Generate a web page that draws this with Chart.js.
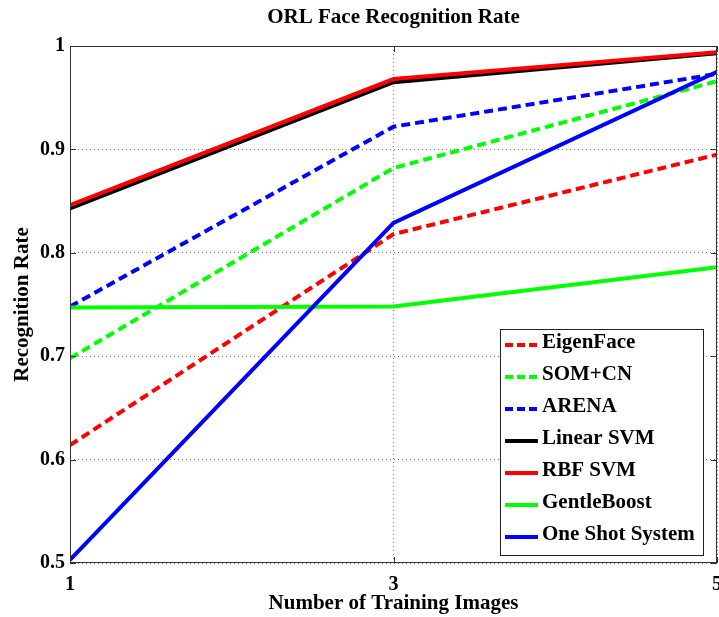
<!DOCTYPE html>
<html>
<head>
<meta charset="utf-8">
<script src="https://cdn.jsdelivr.net/npm/chart.js@4"></script>
<style>
  body { margin: 0; background: #fff; }
  canvas { display: block; }
</style>
</head>
<body>
<canvas id="c" width="719" height="617"></canvas>
<script>
// values
const trainImages = [1, 3, 5];
const xTicks = [1, 3, 5];
const yTicks = [0.5, 0.6, 0.7, 0.8, 0.9, 1];

const methods = ['EigenFace', 'SOM+CN', 'ARENA', 'Linear SVM', 'RBF SVM', 'GentleBoost', 'One Shot System'];
const eigenFace   = [0.614, 0.818, 0.895];
const somCn       = [0.698, 0.882, 0.966];
const arena       = [0.748, 0.922, 0.973];
const linearSvm   = [0.843, 0.965, 0.993];
const rbfSvm      = [0.846, 0.968, 0.994];
const gentleBoost = [0.747, 0.748, 0.786];
const oneShot     = [0.503, 0.829, 0.975];

const series = [eigenFace, somCn, arena, linearSvm, rbfSvm, gentleBoost, oneShot];
const colors = ['#ff0000', '#00ff00', '#0000ff', '#000000', '#ff0000', '#00ff00', '#0000ff'];
const dashed = [true, true, true, false, false, false, false];

const chartTitle = 'ORL Face Recognition Rate';
const serif = "'Liberation Serif', 'Times New Roman', serif";

const datasets = methods.map((name, i) => ({
  label: name,
  data: series[i].map((v, j) => ({ x: trainImages[j], y: v })),
  borderColor: colors[i],
  backgroundColor: colors[i],
  borderWidth: 4,
  borderDash: dashed[i] ? [9, 5] : [],
  pointRadius: 0,
  tension: 0,
  fill: false,
  order: methods.length - i  // later series drawn on top, like matlab
}));

// title over the axes, frame, inner tick marks and the boxed legend
const matlabBox = {
  id: 'matlabBox',
  afterDraw(chart) {
    const ctx = chart.ctx;
    const a = chart.chartArea;
    const xs = chart.scales.x, ys = chart.scales.y;
    ctx.save();

    ctx.fillStyle = '#000';
    ctx.font = 'bold 21px ' + serif;
    ctx.textAlign = 'center';
    ctx.textBaseline = 'middle';
    ctx.fillText(chartTitle, (a.left + a.right) / 2, 18);

    ctx.strokeStyle = '#333';
    ctx.lineWidth = 1;
    ctx.setLineDash([]);
    ctx.strokeRect(a.left + 0.5, a.top + 0.5, a.right - a.left - 1, a.bottom - a.top - 1);
    ctx.beginPath();
    yTicks.forEach(v => {
      const y = Math.round(ys.getPixelForValue(v)) + 0.5;
      ctx.moveTo(a.left, y); ctx.lineTo(a.left + 6, y);
      ctx.moveTo(a.right - 6, y); ctx.lineTo(a.right, y);
    });
    xTicks.forEach(v => {
      const x = Math.round(xs.getPixelForValue(v)) + 0.5;
      ctx.moveTo(x, a.bottom); ctx.lineTo(x, a.bottom - 6);
      ctx.moveTo(x, a.top); ctx.lineTo(x, a.top + 6);
    });
    ctx.stroke();

    // legend
    const w = 203, h = 226;
    const left = a.right - 14 - w;
    const top = a.bottom - 8 - h;
    ctx.fillStyle = '#fff';
    ctx.fillRect(left, top, w, h);
    ctx.strokeStyle = '#222';
    ctx.strokeRect(left + 0.5, top + 0.5, w, h);
    ctx.font = 'bold 21px ' + serif;
    ctx.textBaseline = 'alphabetic';
    ctx.textAlign = 'left';
    chart.data.datasets.forEach((ds, i) => {
      const y = top + 16 + i * 32;
      ctx.beginPath();
      ctx.strokeStyle = ds.borderColor;
      ctx.lineWidth = 4;
      ctx.setLineDash(ds.borderDash.length ? [8, 4] : []);
      ctx.moveTo(left + 5, y);
      ctx.lineTo(left + 38, y);
      ctx.stroke();
      ctx.fillStyle = '#000';
      ctx.fillText(ds.label, left + 42, y + 3);
    });
    ctx.restore();
  }
};

new Chart(document.getElementById('c'), {
  type: 'line',
  data: { datasets: datasets },
  plugins: [matlabBox],
  options: {
    responsive: false,
    animation: false,
    layout: { padding: { left: 0, right: 2, top: 46, bottom: 0 } },
    plugins: {
      legend: { display: false },
      tooltip: { enabled: false },
      title: { display: false }
    },
    scales: {
      x: {
        type: 'linear',
        min: 1,
        max: 5,
        afterBuildTicks: s => { s.ticks = xTicks.map(v => ({ value: v })); },
        afterFit: s => { s.height = 54; s.paddingLeft = 0; s.paddingRight = 0; },
        grid: { color: 'rgba(0,0,0,0.55)', lineWidth: 1, drawTicks: false },
        border: { display: false, dash: [1, 3] },
        ticks: {
          color: '#000',
          padding: 10,
          maxRotation: 0,
          font: { family: serif, size: 20, weight: 'bold' },
          callback: v => String(v)
        },
        title: {
          display: true,
          text: 'Number of Training Images',
          color: '#000',
          font: { family: serif, size: 21, weight: 'bold' },
          padding: { top: 0, bottom: 1 }
        }
      },
      y: {
        min: 0.5,
        max: 1,
        afterBuildTicks: s => { s.ticks = yTicks.map(v => ({ value: v })); },
        afterFit: s => { s.width = 70; s.paddingTop = 0; s.paddingBottom = 0; },
        grid: { color: 'rgba(0,0,0,0.55)', lineWidth: 1, drawTicks: false },
        border: { display: false, dash: [1, 3] },
        ticks: {
          color: '#000',
          padding: 5,
          font: { family: serif, size: 20, weight: 'bold' },
          callback: v => String(Math.round(v * 10) / 10)
        },
        title: {
          display: true,
          text: 'Recognition Rate',
          color: '#000',
          font: { family: serif, size: 21, weight: 'bold' },
          padding: { top: 10, bottom: 0 }
        }
      }
    }
  }
});
</script>
</body>
</html>
